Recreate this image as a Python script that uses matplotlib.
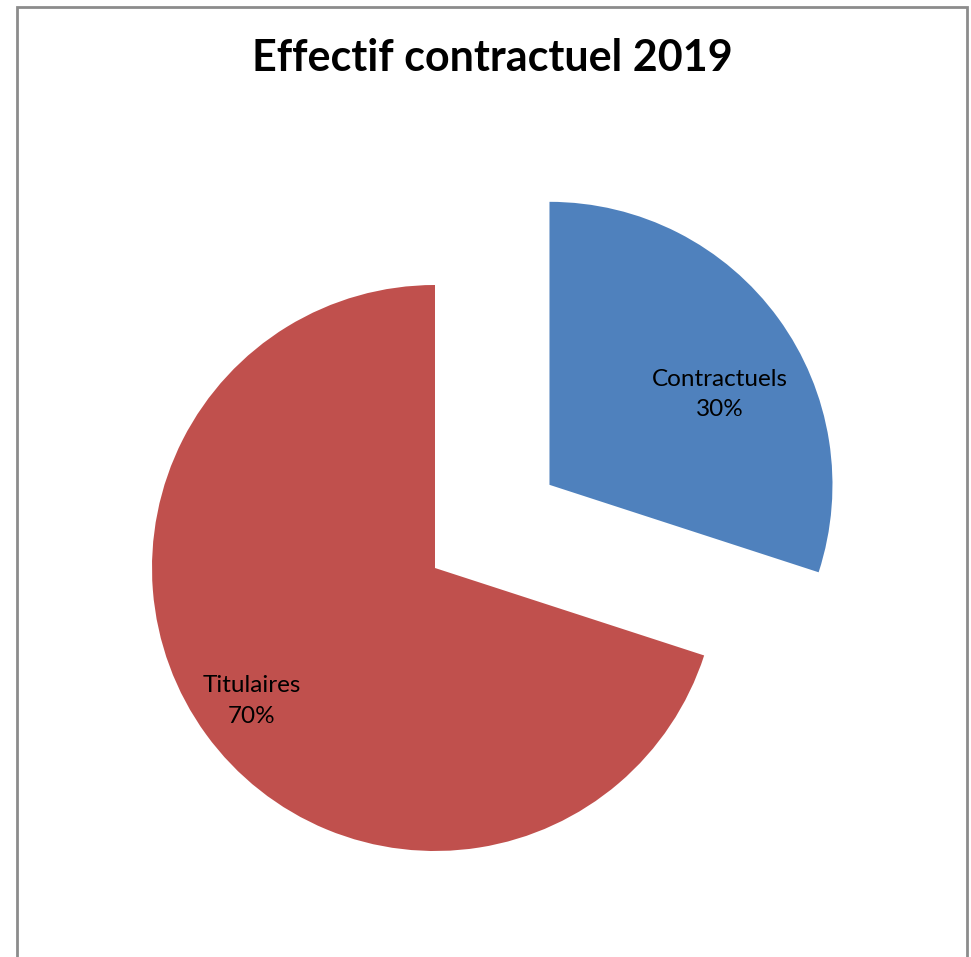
import numpy as np
import matplotlib
matplotlib.use("Agg")
import matplotlib.pyplot as plt
from matplotlib.patches import Rectangle

# data
categories = ["Contractuels", "Titulaires"]
values = [30, 70]
colors = ["#4F81BD", "#C0504D"]
explode = [0.5, 0.0]          # fraction of the radius
label_dist = [0.68, 0.80]
label_turn = [-8, 0]          # degrees off the slice middle

W, H = 971, 957
fig = plt.figure(figsize=(W / 100, H / 100), dpi=100)
ax = fig.add_axes([0, 0, 1, 1])

cx, cy, r = 435, H - 568, 283
wedges, _ = ax.pie(values, colors=colors, explode=[e * r for e in explode],
                   startangle=90, counterclock=False, center=(cx, cy), radius=r,
                   wedgeprops=dict(linewidth=0))

# data labels: name + percent
total = sum(values)
for w, name, v, d, t in zip(wedges, categories, values, label_dist, label_turn):
    mid = np.deg2rad((w.theta1 + w.theta2) / 2 + t)
    ox, oy = w.center
    ax.text(ox + d * r * np.cos(mid), oy + d * r * np.sin(mid),
            f"{name}\n{v / total:.0%}", ha="center", va="center",
            fontsize=17.5, family="Lato", linespacing=1.55)

ax.set_xlim(0, W)
ax.set_ylim(0, H)
ax.set_aspect("equal")
ax.axis("off")

# chart frame
ax.add_patch(Rectangle((17, -10), 950, H - 7 + 10, fill=False,
                       edgecolor="#8c8c8c", linewidth=2))

ax.text(W / 2 + 7, H - 58, "Effectif contractuel 2019", ha="center", va="center",
        fontsize=31, fontweight="bold", family="Lato")

fig.savefig("out.png", dpi=100)
